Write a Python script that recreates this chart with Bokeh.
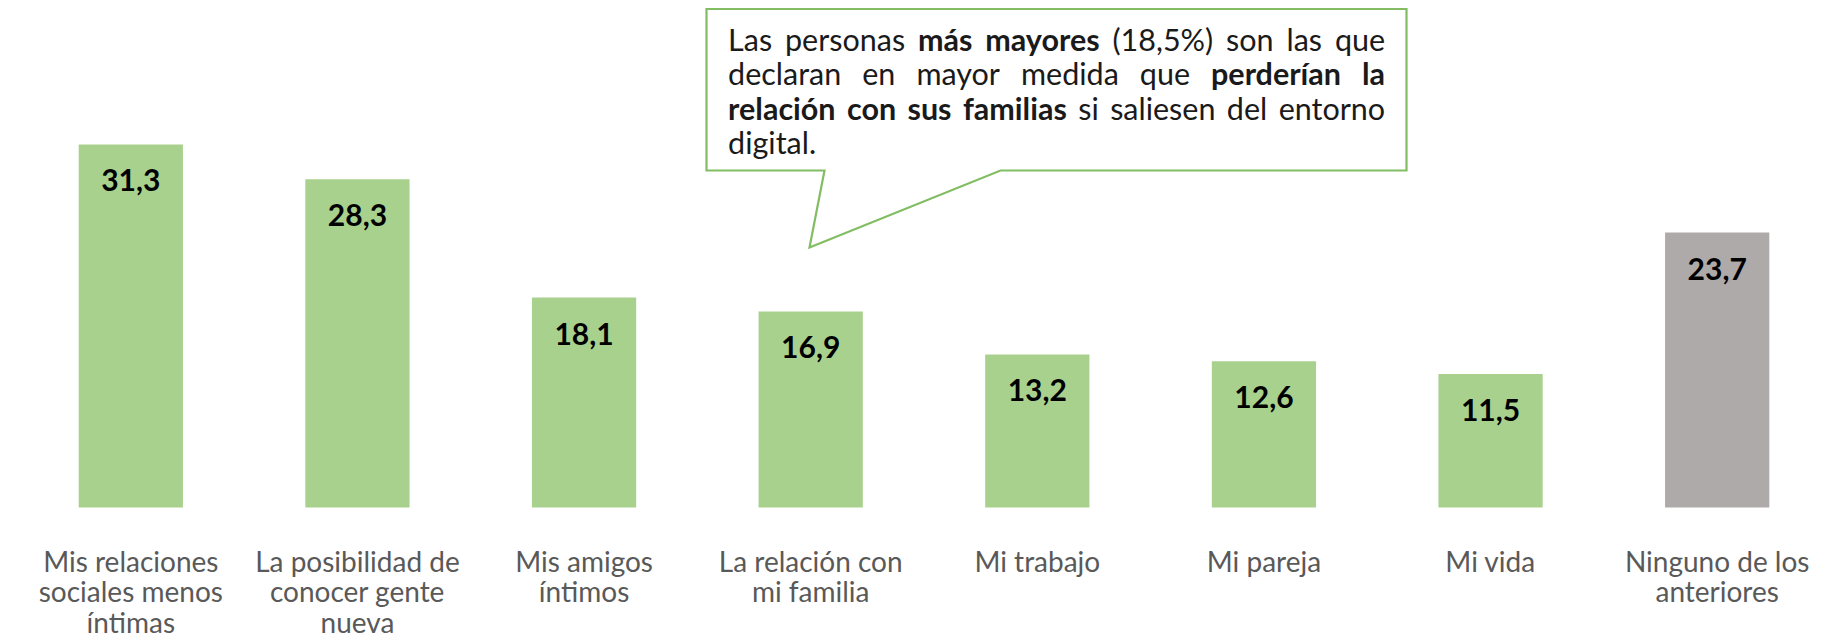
import glob, os, subprocess
from bokeh.plotting import figure
from bokeh.models import FactorRange, Range1d, ColumnDataSource
from bokeh.core.properties import value
from bokeh.embed import file_html
from bokeh.resources import INLINE

# ---------------- data ----------------
categories = [
    "Mis relaciones sociales menos íntimas",
    "La posibilidad de conocer gente nueva",
    "Mis amigos íntimos",
    "La relación con mi familia",
    "Mi trabajo",
    "Mi pareja",
    "Mi vida",
    "Ninguno de los anteriores",
]
category_lines = [
    ["Mis relaciones", "sociales menos", "íntimas"],
    ["La posibilidad de", "conocer gente", "nueva"],
    ["Mis amigos", "íntimos"],
    ["La relación con", "mi familia"],
    ["Mi trabajo"],
    ["Mi pareja"],
    ["Mi vida"],
    ["Ninguno de los", "anteriores"],
]
values = [31.3, 28.3, 18.1, 16.9, 13.2, 12.6, 11.5, 23.7]
highlight_category = "Ninguno de los anteriores"

callout_lines = [
    [("Las", False), ("personas", False), ("más", True), ("mayores", True), ("(18,5%)", False),
     ("son", False), ("las", False), ("que", False)],
    [("declaran", False), ("en", False), ("mayor", False), ("medida", False), ("que", False),
     ("perderían", True), ("la", True)],
    [("relación", True), ("con", True), ("sus", True), ("familias", True), ("si", False),
     ("saliesen", False), ("del", False), ("entorno", False)],
    [("digital.", False)],
]

# ---------------- layout constants ----------------
W, H = 1843, 641
BL, BR = 17, 13
FRAME_W = W - BL - BR
CAT_PX = FRAME_W / len(categories)
PX_PER_UNIT = 11.6
BASE_PAGE_Y = 507.0  # page y of the zero line


def dy(page_y):
    return (BASE_PAGE_Y - page_y) / PX_PER_UNIT


def dx(page_x):
    return (page_x - BL) / CAT_PX


GREEN = "#A9D18E"
GREY = "#AEAAAA"
FONT = "Lato"

# ---------------- font measuring ----------------
try:
    from PIL import ImageFont
except Exception:
    ImageFont = None


def font_path(family, bold):
    style = "Bold" if bold else "Regular"
    try:
        out = subprocess.run(["fc-match", "-f", "%{file}", f"{family}:style={style}"],
                             capture_output=True, text=True, timeout=5).stdout.strip()
        if out and os.path.exists(out) and family.lower() in os.path.basename(out).lower():
            return out
    except Exception:
        pass
    for root in ["/usr/share/fonts", "/usr/local/share/fonts",
                 os.path.expanduser("~/.fonts"), os.path.expanduser("~/.local/share/fonts")]:
        hits = glob.glob(os.path.join(root, "**", f"{family}-{style}.ttf"), recursive=True)
        if hits:
            return hits[0]
    return None


_fonts = {}


def em_width(text, bold):
    if ImageFont is not None:
        if bold not in _fonts:
            f = None
            try:
                path = font_path(FONT, bold)
                if path:
                    f = ImageFont.truetype(path, 200)
            except Exception:
                f = None
            _fonts[bold] = f
        f = _fonts[bold]
        if f is not None:
            return f.getlength(text) / 200.0
    return len(text) * (0.53 if bold else 0.48)


# ---------------- figure ----------------
p = figure(
    width=W, height=H,
    x_range=FactorRange(*categories),
    y_range=Range1d(dy(H), dy(0)),
    x_axis_location=None, y_axis_location=None,
    toolbar_location=None, output_backend="svg",
    min_border=0, min_border_left=BL, min_border_right=BR,
    min_border_top=0, min_border_bottom=0,
)
p.outline_line_color = None
p.grid.visible = False
p.background_fill_color = "white"
p.border_fill_color = "white"

colors = [GREY if c == highlight_category else GREEN for c in categories]
src = ColumnDataSource(dict(
    cat=categories, val=values, color=colors,
    label=[f"{v:.1f}".replace(".", ",") for v in values],
    label_y=[v - 36 / PX_PER_UNIT for v in values],
))
p.vbar(x="cat", top="val", bottom=0, width=0.46, color="color", line_color=None, source=src)
p.text(x="cat", y="label_y", text="label", source=src, text_align="center",
       text_baseline="middle", text_font=value(FONT), text_font_style="bold",
       text_font_size="30px", text_color="#000000")

# category labels
lx, ly, lt = [], [], []
for c, lines in zip(categories, category_lines):
    for i, ln in enumerate(lines):
        lx.append(c)
        ly.append(dy(560 + i * 30.5))
        lt.append(ln)
p.text(x=lx, y=ly, text=lt, text_align="center", text_baseline="middle",
       text_font=value(FONT), text_font_size="28px", text_color="#595959")

# ---------------- callout ----------------
bx0, bx1 = dx(706), dx(1406)
by0, by1 = dy(8.5), dy(170)
px_ = [bx0, bx1, bx1, dx(1000), dx(809), dx(824), bx0]
py_ = [by0, by0, by1, by1, dy(247), by1, by1]
p.patch(px_, py_, fill_color="white", line_color="#82BD63", line_width=2.2, line_join="miter")

TEXT_L, TEXT_R = 727.6, 1384.6
TEXT_W = TEXT_R - TEXT_L
space_em = em_width(" ", False)
nat3 = sum(em_width(w, b) for w, b in callout_lines[2]) + space_em * (len(callout_lines[2]) - 1)
fs = max(20.0, min(30.5, TEXT_W / nat3 * 0.995))

wx = {False: [], True: []}
wy = {False: [], True: []}
wt = {False: [], True: []}
for li, line in enumerate(callout_lines):
    widths = [em_width(w, b) * fs for w, b in line]
    if li < len(callout_lines) - 1 and len(line) > 1:
        gap = (TEXT_W - sum(widths)) / (len(line) - 1)
    else:
        gap = space_em * fs
    cur = TEXT_L
    yline = dy(38.0 + li * 34.6)
    for (w, b), wpx in zip(line, widths):
        wx[b].append(dx(cur))
        wy[b].append(yline)
        wt[b].append(w)
        cur += wpx + gap

for b in (False, True):
    p.text(x=wx[b], y=wy[b], text=wt[b], text_align="left", text_baseline="middle",
           text_font=value(FONT), text_font_style="bold" if b else "normal",
           text_font_size=f"{fs:.1f}px", text_color="#1A1A1A")

open("out.html", "w").write(file_html(p, INLINE))
